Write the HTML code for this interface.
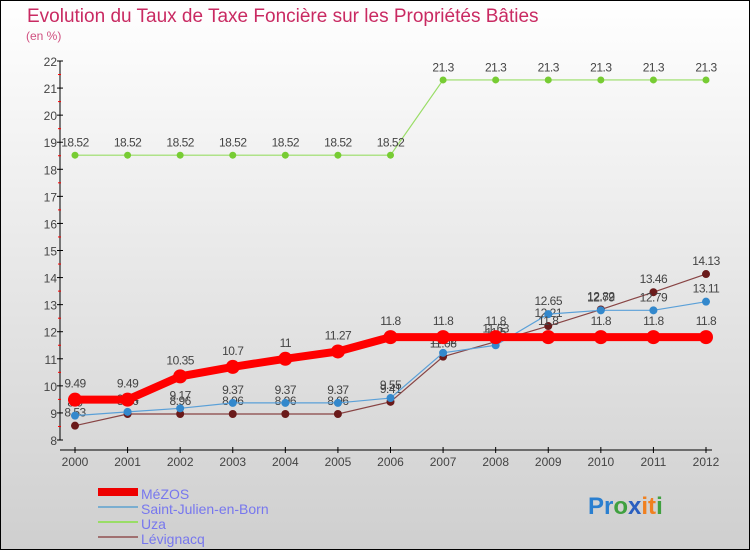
<!DOCTYPE html>
<html><head><meta charset="utf-8"><style>
html,body{margin:0;padding:0}
body{width:750px;height:550px;overflow:hidden;font-family:"Liberation Sans",sans-serif}
</style></head><body>
<svg id="chart" width="750" height="550" xmlns="http://www.w3.org/2000/svg">
<defs><linearGradient id="bg" x1="0" y1="0" x2="0" y2="1"><stop offset="0" stop-color="#ffffff"/><stop offset="1" stop-color="#cfcfcf"/></linearGradient></defs>
<rect x="0.5" y="0.5" width="749" height="549" fill="url(#bg)" stroke="#000"/>
<text x="27" y="22" font-size="19" fill="#c92a62">Evolution du Taux de Taxe Foncière sur les Propriétés Bâties</text>
<text x="26" y="40" font-size="12" fill="#d05080">(en %)</text>
<g id="axes"></g><g id="series"></g><g id="legend"></g>
<text x="588" y="514" font-size="24" font-weight="bold"><tspan fill="#2a7fd0">Pr</tspan><tspan fill="#40a040">o</tspan><tspan fill="#2a5fc0">x</tspan><tspan fill="#f08020">it</tspan><tspan fill="#40a040">i</tspan></text>
</svg>
<script>
const years=[2000,2001,2002,2003,2004,2005,2006,2007,2008,2009,2010,2011,2012];
const yTicks=[8,9,10,11,12,13,14,15,16,17,18,19,20,21,22];
const mezos=[9.49,9.49,10.35,10.7,11,11.27,11.8,11.8,11.8,11.8,11.8,11.8,11.8];
const saintJulien=[8.9,9.04,9.17,9.37,9.37,9.37,9.55,11.22,11.5,12.65,12.79,12.79,13.11];
const uza=[18.52,18.52,18.52,18.52,18.52,18.52,18.52,21.3,21.3,21.3,21.3,21.3,21.3];
const levignacq=[8.53,8.96,8.96,8.96,8.96,8.96,9.41,11.08,11.63,12.21,12.82,13.46,14.13];
const NS="http://www.w3.org/2000/svg";
const x=i=>75+i*(706-75)/(years.length-1);
const y=v=>440-(v-8)*(440-61)/14;
function mk(tag,attrs,parent){const e=document.createElementNS(NS,tag);for(const k in attrs)e.setAttribute(k,attrs[k]);parent.appendChild(e);return e;}
const axes=document.getElementById('axes');
let a=mk('line',{x1:60,y1:61,x2:60,y2:440,stroke:'#000'},axes);


a=mk('line',{x1:60,y1:450,x2:712,y2:450,stroke:'#000'},axes);


yTicks.forEach(v=>{
  mk('line',{x1:57,y1:y(v),x2:63,y2:y(v),stroke:'#000'},axes);
  if(v<22)mk('line',{x1:58,y1:y(v+0.5),x2:61,y2:y(v+0.5),stroke:'#f00'},axes);
  const t=mk('text',{x:57,y:y(v)+5,'font-size':12,fill:'#444','text-anchor':'end'},axes);t.textContent=v;
  
  
});
years.forEach((yr,i)=>{
  mk('line',{x1:x(i),y1:447,x2:x(i),y2:453,stroke:'#000'},axes);
  const t=mk('text',{x:x(i),y:466,'font-size':12,fill:'#444','text-anchor':'middle'},axes);t.textContent=yr;
  
  
});
const ser=document.getElementById('series');
function draw(vals,color,dot,w,r,name){
  const g=mk('g',{},ser);
  
  
  mk('polyline',{points:vals.map((v,i)=>x(i)+','+y(v)).join(' '),fill:'none',stroke:color,'stroke-width':w},g);
  vals.forEach((v,i)=>{
    const c=mk('circle',{cx:x(i),cy:y(v),r:r,fill:dot},g);
    
    
    const t=mk('text',{x:x(i),y:y(v)-(r+5),'font-size':12,fill:'#444','text-anchor':'middle','letter-spacing':'-0.5'},g);
    t.textContent=v;
    
    
  });
}
draw(uza,'#99dd66','#77cc33',1.2,3.5,'series-uza');
draw(levignacq,'#884444','#6a1a1a',1.2,4,'series-levignacq');
draw(saintJulien,'#5aa0d8','#3388cc',1.2,4,'series-saint-julien');
draw(mezos,'#ff0000','#ff0000',8,7,'series-mezos');
const leg=document.getElementById('legend');
const items=[['MéZOS','#ee0000',8],['Saint-Julien-en-Born','#7aaed0',2],['Uza','#99dd66',2],['Lévignacq','#a07070',2]];
items.forEach((it,k)=>{
  const cy=492+k*15;
  const g=mk('g',{},leg);
  
  
  mk('line',{x1:98,y1:cy,x2:138,y2:cy,stroke:it[1],'stroke-width':it[2]},g);
  const t=mk('text',{x:141,y:cy+7,'font-size':14,fill:'#7777ee'},g);t.textContent=it[0];
});
</script>
</body></html>
